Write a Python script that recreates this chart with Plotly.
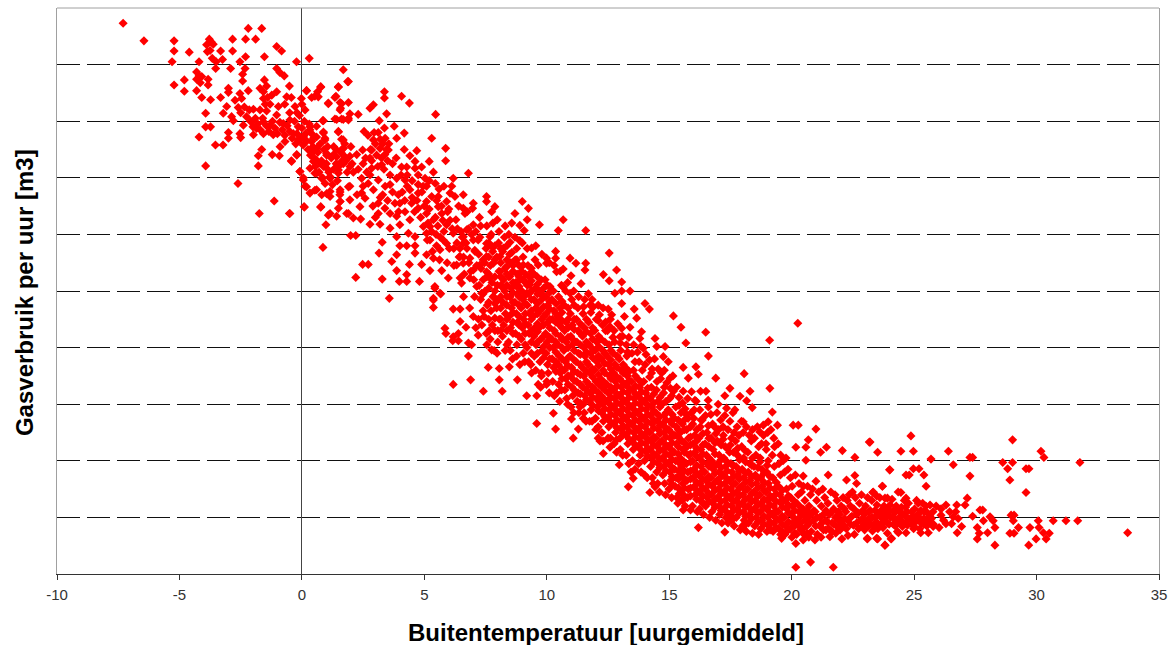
import plotly.graph_objects as go

# (buitentemperatuur, gasverbruik), gas in gridline units
cold_pts = [
    (-7.3,9.73),(-6.45,9.42),(-5.22,9.42),(-5.22,9.24),(-4.6,9.22),(-5.3,9.05),(-5.22,8.64),(-4.8,8.73),(-4.8,8.53),
    (-2.19,9.64),(-1.64,9.64),(-2.83,9.45),(-2.3,9.45),(-1.89,9.45),(-3.78,9.45),(-3.89,9.35),(-3.62,9.36),(-3.32,9.24),
    (-2.83,9.24),(-3.86,9.23),(-1.03,9.32),(-0.83,9.24),(-1.53,9.14),(-2.3,9.14),(0.3,9.11),(-0.22,9.05),(-3.24,9.09),
    (-3.66,9.11),(-4.2,9.05),(-2.53,9.05),(-3.52,8.93),(-2.91,8.93),(-2.32,8.93),(-1.03,8.93),(1.69,8.91),(-4.3,8.87),
    (-0.9,8.86),(-0.72,8.8),(-2.42,8.83),(-2.42,8.71),(-4.3,8.74),(-4.09,8.79),(-3.83,8.74),(-3.83,8.64),(-1.53,8.73),
    (1.87,8.7),(-0.51,8.62),(-3.0,8.58),(-3.0,8.51),(-2.19,8.54),(-1.71,8.58),(-1.44,8.62),(-1.57,8.52),(-1.03,8.52),
    (0.19,8.54),(0.77,8.6),(0.64,8.52),(1.49,8.6),(-4.3,8.54),(-4.09,8.42),(-3.73,8.38),(-3.32,8.42),(-2.53,8.49),
    (-2.46,8.4),(-2.73,8.37),(-1.57,8.4),(-1.23,8.46),(-0.62,8.43),(-0.43,8.42),(-0.02,8.4),(0.4,8.42),(0.67,8.43),
    (1.35,8.42),(1.08,8.31),(1.62,8.31),(-3.07,8.26),(-2.6,8.24),(-1.98,8.21),(-1.71,8.2),(-1.44,8.18),(-0.96,8.26),
    (-0.28,8.26),(0.13,8.2),(1.56,8.2),(-3.93,8.14),(-3.21,8.14),(-2.87,8.08),(-2.26,8.08),(-1.03,8.11),(-0.49,8.02),
    (-2.8,8.01),(-2.05,7.99),(-1.57,7.99),(-1.3,7.93),(-0.76,7.96),(0.88,8.01),(1.42,8.03),(1.69,8.03),(1.9,8.05),
    (-3.93,7.9),(-3.73,7.9),(-2.39,7.93),(-1.85,7.87),(-0.15,7.9),(0.33,7.9),(0.6,7.91),(-3.0,7.8),(-2.53,7.78),
    (-1.98,7.76),(-1.57,7.78),(-1.17,7.76),(-0.35,7.78),(0.06,7.73),(0.88,7.81),(1.49,7.81),(-4.2,7.72),(-3.0,7.7),
    (-2.5,7.71),(-0.69,7.64),(-0.15,7.67),(0.4,7.64),(0.94,7.7),(1.69,7.67),(-3.53,7.58),(-3.22,7.58),(-0.89,7.55),
    (0.6,7.52),(1.69,7.52),(-1.64,7.5),(-1.78,7.39),(-1.21,7.41),(-0.92,7.39),(-0.21,7.41),(1.01,7.4),(1.42,7.37),
    (1.76,7.37),(-0.43,7.3),(0.6,7.31),(1.69,7.25),(-3.93,7.21),(-1.78,7.21),(0.88,7.2),(-0.08,7.11),(0.06,7.0),
    (0.6,7.08),(1.15,7.02),(1.49,7.14),(-2.61,6.9),(0.19,6.84),(0.53,6.78),(1.01,6.72),(1.56,6.75),(1.9,6.84),
    (-1.13,6.59),(-1.74,6.37),(-0.51,6.37),(0.1,6.48),(0.77,6.48),(1.15,6.37),(1.56,6.58),(1.83,6.37),
    (-2.1,8.0),(-2.0,7.9),(-1.9,8.05),(-1.8,7.95),(-1.7,7.85),(-1.6,8.05),(-1.45,7.92),(-1.35,7.82),(-1.2,8.0),(-1.1,7.88),
    (-1.0,7.78),(-0.9,7.98),(-0.8,7.85),(-0.7,7.75),(-0.6,7.92),(-0.5,7.82),(-0.4,7.7),(-0.3,8.0),(-0.25,7.6),(-0.2,7.78),
    (-0.1,8.1),(-0.05,7.7),(0.0,7.88),(0.05,7.58),(0.1,8.0),(0.15,7.78),(0.2,7.65),(0.25,7.5),(0.3,7.95),(0.35,7.4),
    (0.4,7.78),(0.45,7.55),(0.5,7.35),(0.55,7.2),(0.6,7.72),(0.65,7.45),(0.7,7.1),(0.75,7.6),(0.8,7.3),(0.85,7.0),
    (0.9,7.5),(0.95,6.9),(1.0,7.25),(1.05,7.55),(1.1,7.1),(1.2,7.35),(1.25,6.88),(1.3,7.15),(1.4,7.5),(1.45,6.95),(1.5,7.2),(1.55,6.7),
    (-1.4,8.42),(-1.3,8.3),(-1.5,8.3),(-0.7,8.3),(-0.5,8.15),(-0.2,8.15),(0.0,8.3),(-2.35,8.25),(-2.15,8.2),(-2.5,8.15),
    (-4.2,8.8),(-4.15,8.68),(-3.75,9.25),(-3.7,9.4),(-3.5,9.05),
]
mild_pts = [
    (1.9,8.7),(0.77,8.61),(1.49,8.61),(0.19,8.54),(3.37,8.52),(3.37,8.41),(4.07,8.44),(4.39,8.32),(1.39,8.44),(0.53,8.44),
    (1.08,8.32),(1.56,8.33),(1.9,8.33),(2.92,8.29),(2.78,8.23),(1.58,8.23),(1.96,8.13),(2.3,8.12),(3.46,8.13),(5.46,8.12),
    (1.35,8.04),(1.62,8.04),(1.9,8.02),(0.85,8.01),(3.16,8.01),(3.77,7.91),(3.37,7.88),(1.49,7.82),(2.54,7.82),(3.12,7.8),
    (4.18,7.79),(0.88,7.79),(0.33,7.85),(3.87,7.7),(5.3,7.7),(1.62,7.68),(2.92,7.67),(3.4,7.7),(0.94,7.67),(0.47,7.7),
    (-0.08,7.67),(5.87,7.52),(4.18,7.5),(4.69,7.48),(2.48,7.49),(1.69,7.52),(3.19,7.52),(3.53,7.49),(2.85,7.49),(0.47,7.46),
    (1.01,7.43),(-0.21,7.4),(4.41,7.39),(1.3,7.41),(1.96,7.38),(2.24,7.41),(3.39,7.41),(2.78,7.35),(5.2,7.29),(5.87,7.3),
    (4.62,7.29),(0.47,7.29),(0.74,7.26),(1.62,7.29),(-0.42,7.29),(3.26,7.23),(4.07,7.19),(4.28,7.19),(4.89,7.19),(4.62,7.17),
    (2.85,7.17),(1.96,7.2),(1.01,7.17),(0.33,7.17),(5.37,7.1),(6.8,7.08),(-0.08,7.11),(0.53,7.08),(1.49,7.08),(2.78,7.05),
    (3.6,7.05),(6.18,6.99),(5.03,6.99),(4.21,6.96),(1.15,6.99),(0.81,6.99),(0.06,6.96),(2.44,6.99),(3.12,6.96),(3.87,6.99),
    (3.6,6.88),(4.75,6.88),(6.12,6.85),(0.13,6.85),(1.96,6.85),(2.71,6.9),(5.09,6.85),(0.33,6.73),(0.6,6.79),(1.15,6.76),
    (1.56,6.79),(2.44,6.73),(2.92,6.79),(4.41,6.79),(6.05,6.73),(3.94,6.7),(4.75,6.73),(6.59,6.7),(5.3,6.67),(5.57,6.67),
    (6.25,6.67),(1.96,6.61),(0.81,6.7),(1.15,6.67),(2.58,6.64),(7.54,6.67),(7.54,6.58),(3.12,6.55),(4.0,6.55),(4.48,6.55),
    (5.09,6.58),(5.91,6.58),(9.0,6.58),(0.09,6.49),(0.77,6.49),(1.56,6.58),(2.37,6.49),(7.88,6.49),(6.59,6.46),(6.97,6.46),
    (5.57,6.49),(9.25,6.46),(3.39,6.46),(4.75,6.46),(1.49,6.46),(7.75,6.4),(6.66,6.37),(3.12,6.37),(3.6,6.37),(4.21,6.4),
    (5.09,6.37),(5.71,6.37),(8.7,6.37),(1.9,6.37),(1.08,6.34),(1.42,6.32),(-0.49,6.37),(3.87,6.32),(2.1,6.29),(2.4,6.27),
    (7.98,6.26),(9.2,6.26),(4.41,6.26),(5.37,6.26),(6.29,6.26),(10.67,6.26),(2.78,6.18),(3.19,6.18),(0.98,6.17),(8.57,6.2),
    (7.0,6.17),(4.0,6.17),(4.96,6.14),(5.23,6.14),(5.91,6.17),(8.9,6.16),(9.7,6.17),(3.6,6.11),(6.73,6.08),(5.09,6.02),
    (4.35,6.02),(6.18,6.02),(10.47,6.07),(11.59,6.07),(9.08,6.07),(1.99,5.98),(2.2,5.98),(3.87,5.96),(4.62,5.96),(6.59,5.96),
    (7.68,5.96),(8.5,5.86),(8.9,5.89),(3.28,5.86),(5.23,5.9),(5.91,5.84),(4.0,5.8),(4.28,5.8),(4.62,5.8),(5.5,5.8),
    (6.59,5.84),(7.54,5.84),(0.86,5.77),(5.64,5.73),(9.38,5.76),(8.23,5.76),(7.75,5.79),(7.07,5.7),(8.57,5.68),(10.36,5.7),
    (3.15,5.67),(4.62,5.67),(5.09,5.64),(3.87,5.64),(6.46,5.61),(9.99,5.58),(10.95,5.58),(10.36,5.58),(6.86,5.58),(7.54,5.61),
    (8.09,5.61),(8.77,5.55),(3.67,5.52),(5.37,5.58),(2.48,5.47),(2.71,5.47),(4.39,5.47),(4.89,5.47),(6.32,5.46),(6.59,5.49),
    (7.27,5.46),(7.82,5.49),(8.36,5.43),(9.04,5.46),(9.65,5.46),(11.19,5.49),(11.59,5.49),(9.99,5.49),(3.87,5.36),(5.23,5.36),
    (5.71,5.36),(7.0,5.37),(7.54,5.34),(8.09,5.34),(9.38,5.34),(10.4,5.34),(10.67,5.39),(11.56,5.37),(2.2,5.24),(3.28,5.21),
    (4.28,5.29),(3.98,5.17),(4.28,5.17),(4.8,5.17),(5.98,5.23),(6.46,5.23),(6.86,5.23),(7.68,5.23),(8.5,5.26),(8.9,5.2),
    (9.59,5.26),(9.93,5.2),(10.99,5.27),(11.4,5.13),(5.43,5.08),(5.64,4.96),(6.52,5.14),(7.14,5.08),(8.23,5.05),(8.77,5.08),
    (9.31,5.11),(10.13,5.08),(10.67,5.07),(3.57,4.87),(5.37,4.87),(7.34,4.96),(7.82,4.9),(8.5,4.9),(9.18,4.96),(9.72,4.96),
    (10.95,4.96),
    (2.7,7.75),(2.8,7.5),(2.85,7.3),(2.95,7.8),(3.0,7.6),(3.05,7.4),(3.1,7.2),(3.2,7.68),(3.25,7.35),(3.3,7.6),(3.35,7.15),(3.45,7.5),(3.5,7.3),(3.55,7.6),(2.65,7.1),(2.6,7.35),
    (1.3,7.55),(1.4,7.25),(1.6,7.45),(1.75,7.6),(1.8,7.3),(1.85,7.1),(2.0,7.55),(2.05,7.25),(2.1,7.1),
    (3.3,6.7),(3.5,6.6),(3.4,6.85),(3.7,6.75),(3.8,6.55),(3.95,6.4),(4.1,6.75),(4.2,6.6),(4.3,6.85),(4.5,6.65),(4.6,6.4),(4.7,6.6),(4.85,6.3),(4.9,6.75),(5.0,6.5),(5.15,6.2),
    (5.2,6.45),(5.3,6.05),(5.45,6.3),(5.55,6.15),(5.65,5.95),(5.75,6.25),(5.8,6.05),(5.95,6.4),(6.05,6.25),(6.2,5.75),(6.35,6.1),(6.45,5.75),(6.5,6.05),(6.6,5.6),(6.7,5.85),(6.8,6.1),(6.9,5.35),(7.0,5.9),(7.1,6.05),
    (3.7,7.25),(3.85,7.35),(4.05,7.05),(4.3,7.05),(4.5,6.95),(4.75,7.05),(4.95,6.85),(5.2,6.95),(5.45,6.9),(5.6,6.8),(5.8,6.85),(2.3,7.15),(2.5,7.25),(2.5,6.85),(2.25,6.7),(2.9,6.5),(3.2,6.65),(3.0,6.3),
    (5.5,6.6),(5.7,6.5),(6.0,6.45),(6.4,6.5),(6.75,6.4),(7.0,6.55),(7.25,6.3),(7.3,6.15),(7.55,6.15),(7.8,6.2),(8.05,6.05),(8.3,6.15),(8.45,6.0),(8.7,5.95),(9.0,5.85),(9.2,5.75),(9.55,5.8),(9.8,5.65),(10.1,5.5),(10.3,5.45),(10.55,5.35),
]
edge_pts = [
    (12.55,5.67),(12.85,5.37),(12.31,5.29),(12.55,5.18),(13.06,5.16),(13.4,5.0),(13.06,5.0),(12.78,4.96),(13.06,4.78),(14.01,4.78),
    (13.57,4.68),(14.19,4.68),(12.51,4.68),(12.65,4.58),(15.17,4.56),(13.67,4.52),(13.17,4.55),(15.48,4.36),(16.49,4.27),(13.4,4.36),
    (13.87,4.28),(13.06,4.34),(12.58,4.37),(15.68,4.08),(14.42,4.16),(13.8,4.16),(12.99,4.19),(16.6,3.85),(14.83,4.02),(14.49,4.02),
    (14.76,3.84),(13.94,3.99),(15.57,3.65),(16.09,3.66),(14.96,3.75),(16.19,3.53),(15.78,3.46),(16.9,3.46),(14.28,3.55),(14.69,3.55),
    (15.03,3.46),(15.57,3.23),(15.91,3.22),(16.28,3.23),(16.5,3.23),(15.17,3.23),(16.05,3.07),(17.27,3.15),(17.0,3.0),(5.84,4.34),
    (5.88,4.25),(6.18,4.19),(6.39,4.25),(6.16,4.12),(6.39,4.12),(6.18,4.68),(6.46,4.68),(5.43,5.05),(5.67,4.95),(5.37,4.84),
    (5.37,4.71),(6.46,4.46),(6.7,4.36),(7.0,4.55),(6.8,4.08),(7.2,4.22),(6.93,4.05),(6.8,3.85),(7.75,3.96),(7.61,3.65),
    (8.06,3.63),(8.47,3.66),(8.77,3.85),(6.89,3.43),(6.18,3.35),(8.06,3.43),(8.8,3.43),(7.41,3.23),(8.18,3.23),(9.18,3.15),
    (9.59,3.15),(9.38,3.55),(9.79,3.55),(9.65,3.35),(9.99,3.35),(10.27,2.84),(9.59,2.66),(10.36,2.56),(11.29,2.56),(11.01,2.74),
    (11.49,2.75),(11.08,2.4),(12.1,2.4),(18.06,3.54),(17.48,3.28),(19.11,3.28),(18.3,3.23),(17.89,3.14),(18.16,3.06),(16.59,3.07),
    (17.34,2.93),(18.39,2.94),(17.68,2.9),(19.21,2.86),(18.02,2.69),(19.42,2.63),(20.06,2.63),(20.27,2.63),(18.84,2.63),(20.99,2.56),
    (19.04,2.69),(18.7,2.51),(20.68,2.37),(20.25,4.43),(19.1,4.13),(20.58,2.24),(20.17,2.24),(20.58,2.01),(21.18,2.15),(21.42,2.24),
    (22.07,2.18),(22.58,2.06),(23.2,2.33),(23.51,2.15),(24.01,1.84),(21.49,1.75),(22.58,1.74),(22.24,1.66),(22.65,1.6),(23.71,1.55),
    (20.99,1.64),(20.47,1.73),(24.35,1.45),(23.33,1.45),(23.81,1.34),(15.57,1.13),(15.87,1.13),(16.19,0.82),(17.27,0.74),(18.02,0.81),
    (19.59,0.63),(20.17,0.54),(23.09,0.63),(23.47,0.63),(23.81,0.51),(24.08,0.63),(24.32,0.75),(20.17,0.12),(20.77,0.21),(21.7,0.12),
    (13.33,1.54),(14.21,1.44),(15.41,1.42),(14.42,1.54),(13.53,1.69),(12.96,1.93),(12.58,2.24),(12.31,2.13),(12.17,2.35),(12.85,2.37),
]
upper_pts = [
    (10.6,5.1),(10.85,5.15),(11.1,5.0),(11.3,4.9),(11.55,4.85),(11.7,4.95),(11.85,4.85),(12.1,4.75),
    (11.9,4.72),(12.15,4.58),(12.3,4.7),(12.4,4.45),(12.6,4.5),(12.75,4.3),(12.9,4.42),(13.1,4.2),(13.25,4.05),(13.35,4.18),(13.55,4.05),(13.7,3.92),(13.85,4.02),(14.05,3.88),(14.2,3.78),(14.3,3.62),
    (14.4,3.8),(14.55,3.62),(14.65,3.45),(14.8,3.6),(14.9,3.38),(15.05,3.28),(15.15,3.5),(15.3,3.3),(15.4,3.12),(15.55,3.02),(15.65,2.92),(15.75,3.1),(15.9,2.85),(16.1,3.05),(16.25,2.9),(16.35,2.72),
    (16.6,2.95),(16.7,2.82),(16.85,2.6),(16.95,2.85),(17.1,2.72),(17.2,2.6),(17.4,2.55),(17.6,2.85),(17.65,2.5),(17.85,2.45),(17.95,2.7),(18.15,2.6),(18.35,2.35),(18.4,2.55),(18.6,2.6),(18.65,2.25),
    (18.85,2.45),(18.95,2.3),(19.15,2.55),(19.3,2.25),(19.45,2.3),(19.55,2.1),(19.65,2.0),(19.85,1.85),(19.95,1.7),(20.15,1.75),(20.3,1.6),(20.4,1.45),(20.65,1.55),(20.85,1.5),(21.1,1.45),(21.35,1.35),
    (21.6,1.45),(21.85,1.3),(22.1,1.35),(22.35,1.4),(22.6,1.35),(22.85,1.4),(23.1,1.35),(23.6,1.35),(24.1,1.32),(24.6,1.3),(25.1,1.3),(25.35,1.25),(25.9,1.2),(26.1,1.15),(26.45,1.1),(26.2,0.95),(26.7,1.1),
    (11.5,4.72),(11.8,4.62),(12.1,4.48),(12.4,4.3),(12.7,4.18),(13.0,4.08),(13.3,3.92),(13.6,3.75),(13.9,3.6),(14.2,3.48),(14.5,3.4),(14.8,3.3),(15.1,3.15),(15.4,2.98),(15.7,2.82),(16.0,2.75),(16.3,2.72),
    (16.6,2.62),(16.9,2.48),(17.2,2.38),(17.5,2.28),(17.8,2.22),(18.1,2.18),(18.4,2.05),(18.7,1.98),(19.0,1.92),
]
lower_pts = [
    (6.6,4.9),(6.85,4.7),(7.05,4.9),(7.1,4.35),(7.35,4.4),(7.55,4.05),(7.65,4.3),(7.85,3.95),(8.0,4.1),(8.3,3.95),(8.6,3.8),(8.9,3.7),(9.1,3.75),(9.35,3.7),(9.55,3.6),(9.75,3.3),(10.0,3.4),(10.1,3.2),
    (10.4,3.2),(10.6,3.25),(10.85,3.0),(11.1,2.85),(11.35,2.95),(11.6,2.7),(11.85,2.7),(12.1,2.6),(12.3,2.35),(12.6,2.4),(12.85,2.15),(13.1,2.1),(13.35,1.95),(13.6,1.85),(13.85,1.8),(14.1,1.7),
    (14.35,1.6),(14.6,1.45),(14.85,1.4),(15.1,1.35),(15.35,1.25),(15.65,1.2),(15.95,1.2),(16.15,1.1),(16.4,1.05),(16.65,1.0),(16.9,0.95),(17.15,0.9),(17.4,0.9),(17.65,0.85),(17.9,0.78),(18.15,0.75),(18.4,0.72),(18.65,0.7),
]
core_pts = [
    (5.12,5.9),(5.33,5.7),(5.48,6.0),(5.62,5.55),(5.77,5.9),(5.93,5.5),(6.02,5.75),(6.14,6.1),(6.21,5.45),(6.33,5.85),(6.42,5.6),(6.55,5.95),(6.63,5.3),(6.74,5.75),(6.82,5.5),(6.93,6.0),(7.02,5.2),(7.06,5.72),(7.14,5.45),(7.2,5.9),
    (7.27,5.95),(7.22,5.65),(7.31,5.4),(7.24,5.1),(7.3,4.85),(7.21,4.5),(7.52,5.75),(7.46,5.5),(7.55,5.25),(7.48,5.0),(7.57,4.75),(7.44,4.55),(7.53,4.25),
    (7.73,6.0),(7.79,5.7),(7.7,5.45),(7.76,5.15),(7.81,4.9),(7.72,4.65),(7.78,4.4),(7.69,4.15),(8.03,5.85),(7.96,5.6),(8.05,5.35),(7.98,5.1),(8.02,4.85),(7.95,4.7),(8.06,4.5),(8.0,4.3),(7.97,3.9),
    (8.27,5.95),(8.2,5.7),(8.3,5.4),(8.23,5.2),(8.28,5.0),(8.21,4.8),(8.31,4.6),(8.24,4.4),(8.19,4.2),(8.48,5.65),(8.53,5.5),(8.45,5.25),(8.55,5.05),(8.49,4.9),(8.56,4.7),(8.46,4.55),(8.52,4.35),(8.44,4.1),(8.51,3.95),
    (8.77,5.75),(8.71,5.55),(8.79,5.3),(8.73,5.15),(8.8,4.95),(8.7,4.8),(8.76,4.6),(8.81,4.45),(8.72,4.25),(8.78,4.05),(9.03,5.6),(8.97,5.35),(9.05,5.2),(8.98,5.0),(9.02,4.85),(8.95,4.7),(9.06,4.5),(9.0,4.35),(8.96,4.15),(9.04,3.9),
    (9.23,5.45),(9.29,5.25),(9.21,5.1),(9.27,4.95),(9.2,4.75),(9.3,4.6),(9.24,4.4),(9.28,4.25),(9.19,4.0),(9.26,3.75),(9.52,5.55),(9.46,5.3),(9.54,5.05),(9.48,4.85),(9.55,4.7),(9.45,4.55),(9.51,4.35),(9.47,4.2),(9.56,4.05),(9.49,3.85),
    (9.77,5.2),(9.71,5.0),(9.79,4.85),(9.73,4.65),(9.8,4.5),(9.7,4.35),(9.76,4.15),(9.81,3.95),(9.72,3.75),(9.78,3.5),(10.02,5.1),(9.96,4.9),(10.04,4.75),(9.98,4.6),(10.05,4.45),(9.95,4.25),(10.01,4.1),(9.97,3.9),(10.03,3.7),(10.06,3.55),
    (10.27,5.0),(10.21,4.85),(10.29,4.65),(10.23,4.5),(10.3,4.3),(10.2,4.15),(10.26,4.0),(10.22,3.8),(10.28,3.65),(10.24,3.4),(10.31,3.15),(10.48,4.9),(10.54,4.7),(10.46,4.55),(10.52,4.4),(10.56,4.2),(10.45,4.05),(10.51,3.85),(10.47,3.7),(10.55,3.55),(10.49,3.35),(10.53,3.05),
    (10.77,5.0),(10.71,4.75),(10.79,4.45),(10.73,4.3),(10.8,4.1),(10.7,3.95),(10.76,3.75),(10.72,3.6),(10.78,3.45),(10.74,3.25),(10.81,3.1),(11.02,4.85),(10.96,4.6),(11.04,4.4),(10.98,4.2),(11.05,4.05),(10.95,3.85),(11.01,3.65),(10.97,3.5),(11.03,3.3),(11.06,3.15),(10.99,2.95),
    (11.27,4.7),(11.21,4.5),(11.29,4.3),(11.23,4.1),(11.3,3.9),(11.2,3.75),(11.26,3.55),(11.22,3.4),(11.28,3.2),(11.24,3.05),(11.31,2.85),(11.48,4.6),(11.54,4.35),(11.46,4.2),(11.52,4.0),(11.56,3.85),(11.45,3.65),(11.51,3.5),(11.47,3.3),(11.55,3.15),(11.49,3.0),(11.53,2.85),
    (11.77,4.75),(11.71,4.45),(11.79,4.25),(11.73,4.05),(11.8,3.9),(11.7,3.7),(11.76,3.55),(11.72,3.35),(11.78,3.2),(11.74,3.05),(11.81,2.9),(11.75,2.7),(12.02,4.5),(11.96,4.3),(12.04,4.1),(11.98,3.95),(12.05,3.75),(11.95,3.6),(12.01,3.4),(11.97,3.25),(12.03,3.1),(12.06,2.95),(11.99,2.75),(12.0,2.55),
    (12.27,4.4),(12.21,4.15),(12.29,3.95),(12.23,3.8),(12.3,3.6),(12.2,3.45),(12.26,3.3),(12.22,3.15),(12.28,3.0),(12.24,2.85),(12.31,2.7),(12.25,2.5),(12.48,4.3),(12.54,4.05),(12.46,3.85),(12.52,3.7),(12.56,3.5),(12.45,3.35),(12.51,3.2),(12.47,3.05),(12.55,2.9),(12.49,2.75),(12.53,2.6),(12.5,2.4),
    (12.77,4.1),(12.71,3.9),(12.79,3.7),(12.73,3.55),(12.8,3.4),(12.7,3.25),(12.76,3.1),(12.72,2.95),(12.78,2.8),(12.74,2.65),(12.81,2.5),(12.75,2.3),(13.02,3.95),(12.96,3.8),(13.04,3.6),(12.98,3.45),(13.05,3.3),(12.95,3.15),(13.01,3.0),(12.97,2.85),(13.03,2.7),(13.06,2.55),(12.99,2.4),(13.0,2.2),
    (13.27,3.85),(13.21,3.65),(13.29,3.5),(13.23,3.35),(13.3,3.2),(13.2,3.05),(13.26,2.9),(13.22,2.75),(13.28,2.6),(13.24,2.45),(13.31,2.3),(13.25,2.1),(13.48,3.9),(13.54,3.6),(13.46,3.4),(13.52,3.25),(13.56,3.1),(13.45,2.95),(13.51,2.8),(13.47,2.65),(13.55,2.5),(13.49,2.35),(13.53,2.2),(13.5,2.0),(13.44,1.8),
    (13.77,3.75),(13.71,3.45),(13.79,3.3),(13.73,3.15),(13.8,3.0),(13.7,2.85),(13.76,2.7),(13.72,2.55),(13.78,2.4),(13.74,2.25),(13.81,2.1),(13.75,1.95),(14.02,3.7),(13.96,3.4),(14.04,3.2),(13.98,3.05),(14.05,2.9),(13.95,2.75),(14.01,2.6),(13.97,2.45),(14.03,2.3),(14.06,2.15),(13.99,2.0),(14.0,1.75),
    (14.27,3.3),(14.21,3.1),(14.29,2.95),(14.23,2.8),(14.3,2.65),(14.2,2.5),(14.26,2.35),(14.22,2.2),(14.28,2.05),(14.24,1.9),(14.31,1.7),(14.48,3.25),(14.54,3.05),(14.46,2.85),(14.52,2.7),(14.56,2.55),(14.45,2.4),(14.51,2.25),(14.47,2.1),(14.55,1.95),(14.49,1.8),(14.53,1.6),
    (14.77,3.2),(14.71,3.0),(14.79,2.8),(14.73,2.65),(14.8,2.5),(14.7,2.35),(14.76,2.2),(14.72,2.05),(14.78,1.9),(14.74,1.75),(14.81,1.6),(15.02,3.1),(14.96,2.9),(15.04,2.7),(14.98,2.55),(15.05,2.4),(14.95,2.25),(15.01,2.1),(14.97,1.95),(15.03,1.8),(15.06,1.65),(14.99,1.5),
    (15.27,2.95),(15.21,2.75),(15.29,2.6),(15.23,2.45),(15.3,2.3),(15.2,2.15),(15.26,2.0),(15.22,1.85),(15.28,1.7),(15.24,1.55),(15.31,1.35),(15.48,2.85),(15.54,2.65),(15.46,2.5),(15.52,2.35),(15.56,2.2),(15.45,2.05),(15.51,1.9),(15.47,1.75),(15.55,1.6),(15.49,1.45),(15.53,1.3),
    (15.77,2.75),(15.71,2.55),(15.79,2.4),(15.73,2.25),(15.8,2.1),(15.7,1.95),(15.76,1.8),(15.72,1.65),(15.78,1.5),(15.74,1.35),(16.02,2.9),(15.96,2.65),(16.04,2.45),(15.98,2.3),(16.05,2.15),(15.95,2.0),(16.01,1.85),(15.97,1.7),(16.03,1.55),(16.06,1.4),
    (16.27,2.6),(16.21,2.4),(16.29,2.2),(16.23,2.05),(16.3,1.9),(16.2,1.75),(16.26,1.6),(16.22,1.45),(16.28,1.3),(16.24,1.15),(16.48,2.8),(16.54,2.5),(16.46,2.3),(16.52,2.1),(16.56,1.95),(16.45,1.8),(16.51,1.65),(16.47,1.5),(16.55,1.35),(16.49,1.2),
    (16.77,2.65),(16.71,2.4),(16.79,2.2),(16.73,2.0),(16.8,1.85),(16.7,1.7),(16.76,1.55),(16.72,1.4),(16.78,1.25),(16.74,1.1),(17.02,2.55),(16.96,2.35),(17.04,2.1),(16.98,1.95),(17.05,1.8),(16.95,1.65),(17.01,1.5),(16.97,1.35),(17.03,1.2),(17.06,1.05),
    (17.27,2.8),(17.21,2.45),(17.29,2.25),(17.23,2.05),(17.3,1.9),(17.2,1.75),(17.26,1.6),(17.22,1.45),(17.28,1.3),(17.24,1.15),(17.31,1.0),(17.48,2.7),(17.54,2.4),(17.46,2.15),(17.52,1.95),(17.56,1.8),(17.45,1.65),(17.51,1.5),(17.47,1.35),(17.55,1.2),(17.49,1.05),(17.53,0.95),
    (17.77,2.6),(17.71,2.35),(17.79,2.1),(17.73,1.9),(17.8,1.75),(17.7,1.6),(17.76,1.45),(17.72,1.3),(17.78,1.15),(17.74,1.0),(18.02,2.5),(17.96,2.25),(18.04,2.05),(17.98,1.85),(18.05,1.7),(17.95,1.55),(18.01,1.4),(17.97,1.25),(18.03,1.1),(18.06,0.95),(17.99,0.85),
    (18.27,2.45),(18.21,2.15),(18.29,1.95),(18.23,1.8),(18.3,1.65),(18.2,1.5),(18.26,1.35),(18.22,1.2),(18.28,1.05),(18.24,0.9),(18.48,2.4),(18.54,2.1),(18.46,1.9),(18.52,1.75),(18.56,1.6),(18.45,1.45),(18.51,1.3),(18.47,1.15),(18.55,1.0),(18.49,0.85),
    (18.77,2.3),(18.71,2.05),(18.79,1.85),(18.73,1.7),(18.8,1.55),(18.7,1.4),(18.76,1.25),(18.72,1.1),(18.78,0.95),(18.74,0.8),(19.02,2.5),(18.96,2.2),(19.04,2.0),(18.98,1.8),(19.05,1.6),(18.95,1.45),(19.01,1.3),(18.97,1.15),(19.03,1.0),(19.06,0.85),(18.99,0.75),
    (19.27,2.4),(19.21,2.1),(19.29,1.9),(19.23,1.7),(19.3,1.5),(19.2,1.35),(19.26,1.2),(19.22,1.05),(19.28,0.9),(19.24,0.75),(19.48,1.95),(19.54,1.75),(19.46,1.55),(19.52,1.4),(19.56,1.25),(19.45,1.1),(19.51,0.95),(19.47,0.8),(19.55,0.7),
    (19.77,2.05),(19.71,1.8),(19.79,1.5),(19.73,1.3),(19.8,1.15),(19.7,1.0),(19.76,0.85),(19.72,0.7),(20.02,1.55),(19.96,1.35),(20.04,1.2),(19.98,1.05),(20.05,0.9),(19.95,0.8),(20.01,0.65),
]
# second pass over the solid part of the band, one column per temperature
core_columns = [
    (7.4,[5.55,5.2,4.95,4.65]),(7.63,[5.85,5.6,5.3,5.05,4.8,4.5]),(7.88,[5.8,5.55,5.25,5.0,4.78,4.52,4.3]),
    (8.12,[5.75,5.5,5.25,5.1,4.9,4.7,4.5,4.3]),(8.37,[5.8,5.55,5.3,5.1,4.9,4.75,4.5,4.3,4.05]),(8.62,[5.45,5.35,5.15,4.97,4.8,4.62,4.45,4.25]),
    (8.87,[5.45,5.25,5.08,4.9,4.75,4.55,4.4,4.2]),(9.12,[5.3,5.15,4.92,4.78,4.6,4.42,4.25,4.05]),(9.37,[5.4,5.18,5.0,4.85,4.65,4.5,4.3,4.1,3.9]),
    (9.62,[5.12,4.95,4.78,4.6,4.42,4.28,4.1,3.9]),(9.87,[5.05,4.92,4.72,4.55,4.4,4.2,4.02,3.82]),(10.12,[4.98,4.82,4.68,4.5,4.35,4.18,4.0,3.8]),
    (10.37,[4.78,4.6,4.45,4.25,4.1,3.92,3.75,3.58]),(10.62,[4.82,4.62,4.48,4.35,4.15,4.0,3.8,3.62,3.45]),(10.87,[4.7,4.5,4.35,4.18,4.0,3.82,3.68,3.5,3.35]),
    (11.12,[4.75,4.5,4.32,4.12,3.95,3.78,3.58,3.42,3.25]),(11.37,[4.42,4.25,4.05,3.88,3.7,3.52,3.35,3.18,3.02]),(11.62,[4.5,4.28,4.1,3.92,3.75,3.58,3.4,3.25,3.08]),
    (11.87,[4.35,4.15,3.98,3.82,3.62,3.48,3.3,3.12,2.98]),(12.12,[4.2,4.02,3.85,3.68,3.52,3.35,3.2,3.05,2.88]),(12.37,[4.1,3.9,3.72,3.55,3.38,3.25,3.08,2.92,2.78]),
    (12.62,[3.95,3.78,3.62,3.45,3.3,3.12,2.98,2.82,2.68]),(12.87,[3.85,3.65,3.48,3.32,3.18,3.02,2.88,2.72,2.58]),(13.12,[3.7,3.55,3.38,3.22,3.08,2.92,2.78,2.62,2.48]),
    (13.37,[3.58,3.42,3.28,3.12,2.98,2.82,2.68,2.52,2.38]),(13.62,[3.5,3.32,3.18,3.02,2.88,2.72,2.58,2.42,2.28]),(13.87,[3.38,3.22,3.08,2.92,2.78,2.62,2.48,2.32,2.18]),
    (14.12,[3.28,3.12,2.98,2.82,2.68,2.52,2.38,2.22,2.08]),(14.37,[3.18,3.02,2.88,2.72,2.58,2.42,2.28,2.12,1.98]),(14.62,[3.12,2.95,2.78,2.62,2.48,2.32,2.18,2.02,1.88]),
    (14.87,[3.05,2.85,2.72,2.58,2.42,2.28,2.12,1.98,1.82]),(15.12,[2.82,2.65,2.48,2.32,2.18,2.02,1.88,1.72,1.58]),(15.37,[2.72,2.55,2.42,2.25,2.12,1.98,1.82,1.68,1.52]),
    (15.62,[2.72,2.55,2.32,2.15,1.98,1.82,1.68,1.52,1.38]),(15.87,[2.6,2.42,2.28,2.12,1.98,1.82,1.68,1.52,1.38]),(16.12,[2.55,2.35,2.22,2.08,1.92,1.78,1.62,1.48,1.32]),
    (16.37,[2.48,2.28,2.12,1.98,1.82,1.68,1.52,1.38,1.25]),(16.62,[2.4,2.25,2.05,1.9,1.72,1.58,1.42,1.28]),(16.87,[2.32,2.12,1.92,1.78,1.62,1.48,1.32,1.18]),
    (17.12,[2.28,2.02,1.88,1.72,1.58,1.42,1.28,1.12]),(17.37,[2.22,1.98,1.82,1.68,1.52,1.38,1.22,1.08]),(17.62,[2.15,1.92,1.72,1.58,1.42,1.28,1.12,0.98]),
    (17.87,[2.02,1.82,1.68,1.52,1.38,1.22,1.08]),(18.12,[1.98,1.78,1.62,1.48,1.32,1.18,1.02,0.88]),(18.37,[1.92,1.72,1.58,1.42,1.28,1.12,0.98]),
    (18.62,[1.88,1.68,1.52,1.38,1.22,1.08,0.92]),(18.87,[1.78,1.62,1.48,1.32,1.18,1.02,0.88]),(19.12,[1.72,1.52,1.38,1.22,1.08,0.92,0.78]),
    (19.37,[1.62,1.42,1.28,1.12,0.98,0.82]),(19.62,[1.48,1.32,1.18,1.02,0.88,0.75]),(19.87,[1.38,1.22,1.08,0.92,0.78]),
    (20.12,[1.28,1.12,0.98,0.85,0.72]),(20.37,[1.18,1.02,0.9,0.78]),(20.62,[1.12,0.98,0.85,0.72]),
    (20.9,[1.12,0.95]),(21.15,[1.0,0.85]),(21.4,[1.12,0.95,0.78]),(21.65,[1.1,0.9,0.75]),(21.9,[1.1,0.95,0.82]),(22.15,[1.15,0.98,0.85]),
    (22.4,[1.2,1.0,0.88]),(22.65,[1.05,0.9]),(22.9,[1.12,0.98,0.85]),(23.15,[1.1,0.98,0.85]),(23.4,[1.12,1.0,0.85]),(23.65,[1.12,1.0,0.88]),
    (23.9,[1.15,1.02,0.9]),(24.15,[1.12,1.0,0.88]),(24.4,[1.12,1.0,0.9]),(24.65,[1.18,1.02,0.9]),(24.9,[1.1,0.98,0.88]),(25.15,[1.05,0.95]),
    (25.4,[1.1,0.98,0.88]),(25.65,[1.02,0.92]),
]
warm_pts = [
    (20.27,1.4),(20.21,1.25),(20.29,1.1),(20.23,0.95),(20.3,0.85),(20.2,0.7),(20.48,1.55),(20.54,1.3),(20.46,1.15),(20.52,1.05),(20.56,0.95),(20.45,0.8),(20.51,0.7),(20.47,0.6),
    (20.77,1.4),(20.71,1.2),(20.79,1.05),(20.73,0.9),(20.8,0.75),(20.7,0.65),(21.02,1.3),(20.96,1.1),(21.04,1.0),(20.98,0.85),(21.05,0.7),(20.95,0.6),(21.27,1.5),(21.21,1.2),(21.29,1.05),(21.23,0.9),(21.3,0.78),(21.2,0.65),
    (21.48,1.25),(21.54,1.05),(21.46,0.92),(21.52,0.8),(21.56,0.66),(21.77,1.4),(21.71,1.15),(21.79,1.0),(21.73,0.88),(21.8,0.72),(22.02,1.2),(21.96,1.05),(22.04,0.9),(21.98,0.78),(22.05,0.62),
    (22.27,1.3),(22.21,1.1),(22.29,0.95),(22.23,0.8),(22.3,0.68),(22.48,1.45),(22.54,1.15),(22.46,1.02),(22.52,0.86),(22.56,0.7),(22.77,1.25),(22.71,1.08),(22.79,0.95),(22.73,0.8),
    (23.02,1.2),(22.96,1.05),(23.04,0.92),(22.98,0.78),(23.27,1.3),(23.21,1.12),(23.29,1.0),(23.23,0.88),(23.3,0.76),(23.48,1.22),(23.54,1.05),(23.46,0.92),(23.52,0.8),
    (23.77,1.2),(23.71,1.08),(23.79,0.95),(23.73,0.82),(24.02,1.22),(23.96,1.1),(24.04,1.0),(23.98,0.88),(24.27,1.2),(24.21,1.08),(24.29,0.95),(24.23,0.85),(24.48,1.18),(24.54,1.05),(24.46,0.95),(24.52,0.84),
    (24.77,1.25),(24.71,1.1),(24.79,0.98),(24.73,0.86),(25.02,1.15),(24.96,1.02),(25.04,0.92),(24.98,0.8),(25.27,1.12),(25.21,1.0),(25.29,0.9),(25.23,0.8),(25.48,1.2),(25.54,1.08),(25.46,0.95),(25.52,0.85),(25.77,1.1),(25.71,0.98),(25.79,0.88),
]
tail_pts = [
    (24.87,2.44),(23.17,2.33),(29.02,2.37),(24.46,2.17),(24.97,2.17),(26.4,2.17),(30.18,2.17),(30.3,2.06),(25.69,2.03),(27.28,2.06),(27.39,2.06),(28.62,1.97),(29.02,1.97),(31.77,1.97),
    (26.6,1.93),(28.82,1.86),(24.97,1.86),(25.2,1.86),(24.0,1.84),(29.57,1.86),(29.69,1.86),(24.67,1.75),(24.8,1.75),(25.4,1.75),(27.28,1.73),(28.91,1.66),(25.49,1.55),(23.7,1.55),
    (24.46,1.44),(29.57,1.44),(23.31,1.44),(23.47,1.38),(27.17,1.34),(24.67,1.34),(23.91,1.34),(27.08,1.22),(26.3,1.22),(26.74,1.22),(25.17,1.25),(25.65,1.22),(27.69,1.13),(27.8,1.13),
    (28.96,1.04),(29.08,1.04),(27.39,1.02),(28.1,1.01),(26.1,1.04),(26.6,1.01),(26.8,0.98),(29.05,0.94),(30.07,0.94),(30.68,0.94),(31.2,0.94),(31.68,0.94),(27.83,0.94),(28.23,0.94),
    (26.3,0.89),(26.53,0.89),(26.94,0.84),(27.58,0.82),(28.3,0.82),(29.26,0.82),(29.73,0.82),(30.1,0.82),(26.02,0.82),(25.78,0.84),(26.76,0.73),(28.0,0.73),(28.91,0.72),(29.08,0.72),
    (30.28,0.73),(30.52,0.72),(33.72,0.73),(27.66,0.72),(27.58,0.62),(28.3,0.51),(29.68,0.51),(29.98,0.62),(30.39,0.62),(23.09,0.62),(23.51,0.62),(23.81,0.51),(24.06,0.62),(24.36,0.73),
    (24.67,0.73),(23.91,0.72),(25.27,0.73),(25.58,0.73),(25.0,0.84),
]

x_ticks = [-10, -5, 0, 5, 10, 15, 20, 25, 30, 35]
x_labels = ["-10", "-5", "0", "5", "10", "15", "20", "25", "30", "35"]
gas_grid = [1, 2, 3, 4, 5, 6, 7, 8, 9]

points = cold_pts + mild_pts + edge_pts + upper_pts + lower_pts + core_pts + warm_pts + tail_pts
points += [(c[0], g) for c in core_columns for g in c[1]]
temp = [p[0] for p in points]
gas = [p[1] for p in points]

fig = go.Figure()
fig.add_trace(
    go.Scatter(
        x=temp,
        y=gas,
        mode="markers",
        marker=dict(symbol="diamond", size=7, color="#ff0000", line_width=0),
    )
)
fig.update_layout(
    width=1172,
    height=645,
    margin=dict(l=57, r=13, t=8, b=71),
    plot_bgcolor="white",
    paper_bgcolor="white",
    showlegend=False,
    font=dict(family="Liberation Sans", color="#222222"),
)
fig.update_xaxes(
    automargin=False,
    range=[-10, 35],
    tickvals=x_ticks,
    ticktext=x_labels,
    ticks="outside",
    ticklen=5,
    tickcolor="#333333",
    tickfont=dict(size=15, color="#333333"),
    ticklabelstandoff=2,
    showline=True,
    linecolor="#333333",
    showgrid=False,
    zeroline=True,
    zerolinecolor="#444444",
    zerolinewidth=1,
)
fig.update_yaxes(
    automargin=False,
    range=[0, 10],
    tickvals=gas_grid,
    showticklabels=False,
    ticks="",
    showline=True,
    linecolor="#a0a0a0",
    mirror=True,
    showgrid=True,
    gridcolor="#111111",
    gridwidth=1,
    griddash="23px,7px",
    zeroline=False,
)
# axis titles as annotations so they do not push the margins
fig.add_annotation(
    text="<b>Buitentemperatuur [uurgemiddeld]</b>",
    xref="paper", yref="paper", x=0.498, y=-0.104, xanchor="center", yanchor="middle",
    showarrow=False, font=dict(size=24, color="black"),
)
fig.add_annotation(
    text="<b>Gasverbruik per uur [m3]</b>",
    xref="paper", yref="paper", x=-0.03, y=0.498, xanchor="center", yanchor="middle", textangle=-90,
    showarrow=False, font=dict(size=24, color="black"),
)
# top edge of the plot frame, same grey as the sides
fig.add_shape(type="line", xref="x domain", yref="y domain", x0=0, x1=1, y0=1, y1=1, line=dict(color="#a0a0a0", width=1))

# drop the browser's body margin so the figure fills the window
fig.write_html(
    "out.html",
    config=dict(displayModeBar=False),
    post_script="document.body.style.margin='0';document.body.style.overflow='hidden';",
)
